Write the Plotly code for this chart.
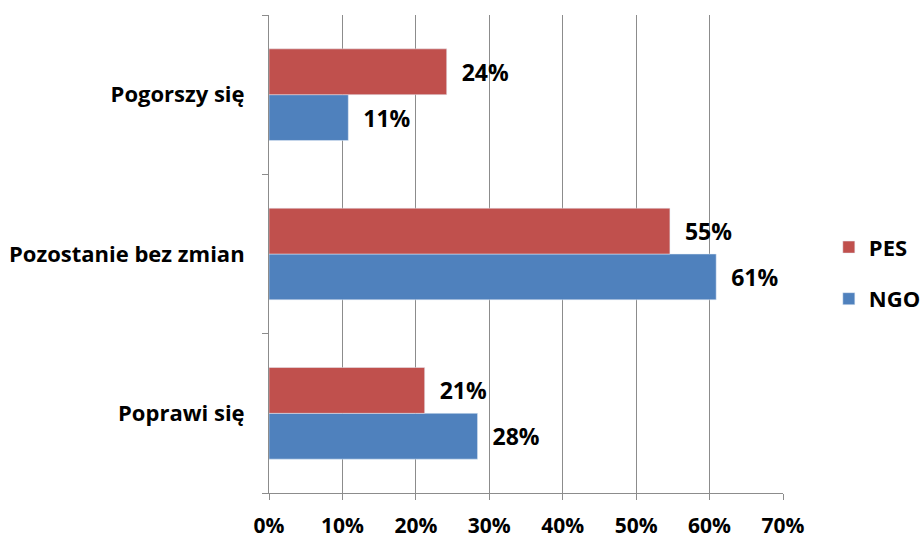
import plotly.graph_objects as go

categories = ["Poprawi się", "Pozostanie bez zmian", "Pogorszy się"]
ngo_values = [0.284, 0.609, 0.108]
pes_values = [0.212, 0.546, 0.242]
ngo_labels = ["28%", "61%", "11%"]
pes_labels = ["21%", "55%", "24%"]
x_tickvals = [0, 0.1, 0.2, 0.3, 0.4, 0.5, 0.6, 0.7]
x_ticktext = ["0%", "10%", "20%", "30%", "40%", "50%", "60%", "70%"]

font_family = "Open Sans, Liberation Sans, sans-serif"
def bold(size):
    return dict(family=font_family, size=size, color="#000000", weight="bold")

fig = go.Figure()
fig.add_trace(go.Bar(
    y=categories, x=ngo_values, orientation="h", name="NGO",
    legendgroup="ngo", legendrank=2,
    marker=dict(color="#4F81BD"),
    text=["  " + t for t in ngo_labels], textposition="outside",
    textfont=bold(23), cliponaxis=False,
))
fig.add_trace(go.Bar(
    y=categories, x=pes_values, orientation="h", name="PES",
    legendgroup="pes", legendrank=1,
    marker=dict(color="#C0504D"),
    text=["  " + t for t in pes_labels], textposition="outside",
    textfont=bold(23), cliponaxis=False,
))

fig.update_layout(
    width=924, height=539,
    margin=dict(l=269, r=141, t=15, b=46),
    paper_bgcolor="white", plot_bgcolor="white",
    barmode="group", bargap=0.425, bargroupgap=0,
    font=bold(22),
    legend=dict(
        traceorder="grouped", xref="container", yref="container",
        x=0.897, y=0.493, xanchor="left", yanchor="middle",
        font=bold(22), itemwidth=30, tracegroupgap=20,
    ),
    uniformtext=dict(minsize=22, mode="show"),
)
fig.update_xaxes(
    range=[0, 0.7], tickvals=x_tickvals, ticktext=x_ticktext,
    showgrid=True, gridcolor="#8C8C8C", gridwidth=1,
    showline=True, linecolor="#8C8C8C", linewidth=1,
    ticks="outside", ticklen=6, tickcolor="#8C8C8C",
    tickfont=bold(21),
    ticklabelstandoff=8, zeroline=False, automargin=False,
)
fig.update_yaxes(
    type="category", categoryorder="array", categoryarray=categories,
    showline=True, linecolor="#8C8C8C", linewidth=1,
    ticks="outside", ticklen=6, tickcolor="#8C8C8C", tickson="boundaries",
    tickfont=bold(22),
    ticklabelstandoff=19, showgrid=False, automargin=False,
)

fig.write_html(
    "out.html",
    config={"displayModeBar": False},
    post_script="document.body.style.margin='0';document.body.style.overflow='hidden';",
)
